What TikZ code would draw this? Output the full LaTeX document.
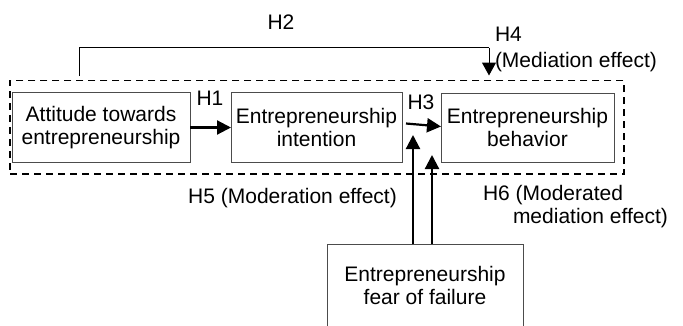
\documentclass[tikz,border=0pt]{standalone}
\usepackage{fontspec}
\setmainfont{Liberation Sans}
\usetikzlibrary{arrows.meta,calc}
\begin{document}
\begin{tikzpicture}[x=1pt,y=-1pt,
  every node/.style={font=\fontsize{21}{23}\selectfont, inner sep=0pt, outer sep=0pt},
  box/.style={draw=black!70, line width=0.9pt, align=center, minimum height=70pt},
  thickarrow/.style={line width=2.2pt, -{Triangle[length=14pt,width=14pt]}},
  thinarrow/.style={line width=1pt, -{Triangle[length=13pt,width=14pt]}},
  groupbox/.style={draw=black, line width=1.3pt, dash pattern=on 7pt off 5pt},
  lbl/.style={align=left}
]
\useasboundingbox (0,0) rectangle (683,325);

% dashed group frame
\node[groupbox, minimum width=614pt, minimum height=93.3pt] (grp) at (317,127.35) {};

% boxes
\node[box, minimum width=178pt] (A) at (101,127.5) {Attitude towards\\entrepreneurship};
\node[box, minimum width=171pt] (B) at (316.5,127.5) {Entrepreneurship\\intention};
\node[box, minimum width=173pt, minimum height=69pt] (C) at (527.5,127.5) {Entrepreneurship\\behavior};
\node[box, minimum width=196pt, minimum height=83pt] (F) at (425,285.5) {Entrepreneurship\\fear of failure};

% coordinates for free ends
\coordinate (h2s) at (79,76);
\coordinate (h2c) at (489,47.7);
\coordinate (h2e) at (489,75.5);
\coordinate (m1) at (413,135);
\coordinate (m2) at (432,155);

% connectors
\draw[thickarrow] (A.east) -- (B.west);
\draw[thickarrow] ([xshift=4pt,yshift=4pt]B.east) -- ([yshift=1pt]C.west);
\draw[line width=1pt] (h2s) |- (h2c);
\draw[thinarrow] (h2c) -- (h2e);
\draw[thickarrow] (m1 |- F.north) -- (m1);
\draw[thickarrow] (m2 |- F.north) -- (m2);

% labels
\node (l1) at (210,98) {H1};
\node (l2) at (281,22) {H2};
\node (l3) at (421,102) {H3};
\node[lbl, anchor=west, font=\fontsize{21}{26}\selectfont] (l4) at (495,49) {H4\\(Mediation effect)};
\node (l5) at (292.5,198) {H5 (Moderation effect)};
\node[lbl, anchor=west] (l6) at (483,206.5) {H6 (Moderated\\\hspace*{30pt}mediation effect)};
\end{tikzpicture}
\end{document}
